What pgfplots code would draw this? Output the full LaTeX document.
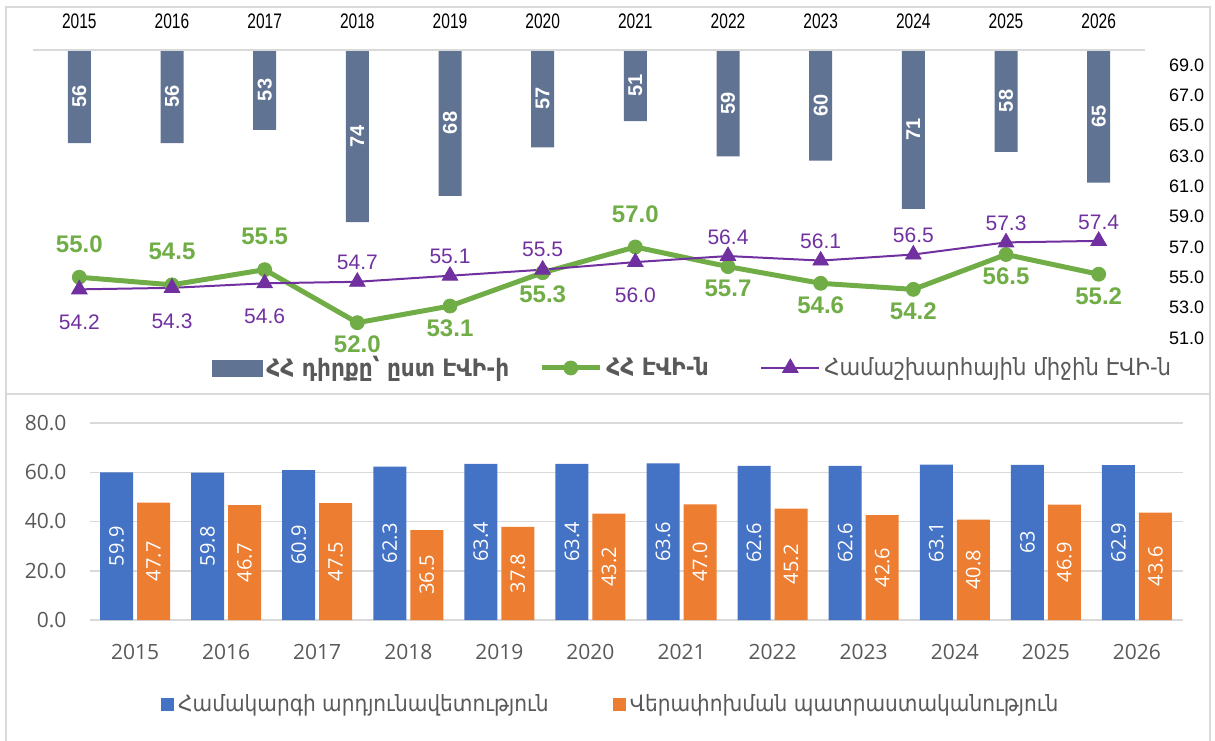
\documentclass[border=0pt]{standalone}
\usepackage{fontspec}
\usepackage{pgfplots}
\usepackage{pgfplotstable}
\pgfplotsset{compat=1.18}
\setmainfont{Liberation Sans}
\newfontfamily\armfont{DejaVu Sans Condensed}
\newfontfamily\narrowfont[FakeStretch=0.74]{Liberation Sans}
\newfontfamily\osfont{Open Sans}
\definecolor{barcol}{HTML}{607392}
\definecolor{gcol}{HTML}{70AD47}
\definecolor{pcol}{HTML}{7030A0}
\definecolor{bcol}{HTML}{4472C4}
\definecolor{ocol}{HTML}{ED7D31}
\definecolor{gridc}{HTML}{D9D9D9}
\definecolor{txt}{HTML}{595959}

\pgfplotstableread{
x rank am   gdy  world pdy
0  56  55.0  16.5  54.2 -16.5
1  56  54.5  16.5  54.3 -16.5
2  53  55.5  16.5  54.6 -16.5
3  74  52.0 -11  54.7  9.5
4  68  53.1 -11  55.1  9.5
5  57  55.3 -11  55.5  10
6  51  57.0  16.5  56.0 -16.5
7  59  55.7 -11  56.4  9.5
8  60  54.6 -11  56.1  9.5
9  71  54.2 -11  56.5  9.5
10 58  56.5 -11  57.3  9.5
11 65  55.2 -11  57.4  9.5
}\topdata

\pgfplotstableread{
x eff  efflab  prep  preplab
0  59.9 59.9  47.7 47.7
1  59.8 59.8  46.7 46.7
2  60.9 60.9  47.5 47.5
3  62.3 62.3  36.5 36.5
4  63.4 63.4  37.8 37.8
5  63.4 63.4  43.2 43.2
6  63.6 63.6  47.0 47.0
7  62.6 62.6  45.2 45.2
8  62.6 62.6  42.6 42.6
9  63.1 63.1  40.8 40.8
10 63   63    46.9 46.9
11 62.9 62.9  43.6 43.6
}\botdata

\begin{document}
\begin{tikzpicture}
\useasboundingbox (0,0) rectangle (607.5pt,370pt);
% panel frames
\draw[gridc, line width=0.75pt] (3pt,173pt) -- (3pt,366.5pt) -- (605pt,366.5pt) -- (605pt,173pt);
\draw[gridc, line width=0.75pt] (3pt,173pt) -- (605pt,173pt);
\draw[gridc, line width=0.75pt] (3pt,173pt) -- (3pt,-1pt);
\draw[gridc, line width=0.75pt] (605pt,173pt) -- (605pt,-1pt);

% ---------- top: rank bars (reversed axis) ----------
\begin{axis}[
  at={(16.5pt,193.5pt)}, anchor=south west,
  width=556pt, height=151.5pt, scale only axis,
  xmin=-0.5, xmax=11.5,
  ymin=34.8, ymax=103.8, y dir=reverse,
  hide axis,
]
\addplot[ybar, bar width=11.5pt, fill=barcol, draw=none]
  table[x=x, y=rank]{\topdata};
\addplot[draw=none, mark=none,
  nodes near coords, point meta=explicit symbolic,
  every node near coord/.append style={font=\bfseries\fontsize{10}{12}\selectfont, text=white,
     anchor=center, rotate=90}]
  table[x=x, y expr={(\thisrow{rank}+34.8)/2}, meta=rank]{\topdata};
\end{axis}
\draw[gridc, line width=1pt] (16.5pt,345pt) -- (572.5pt,345pt);

% ---------- top: lines ----------
\begin{axis}[
  at={(16.5pt,193.5pt)}, anchor=south west,
  width=556pt, height=151.5pt, scale only axis,
  xmin=-0.5, xmax=11.5, ymin=50, ymax=70,
  axis line style={draw=none},
  major tick length=0pt, tick style={draw=none},
  xtick={0,...,11},
  xticklabels={2015,2016,2017,2018,2019,2020,2021,2022,2023,2024,2025,2026},
  xticklabel pos=upper,
  xticklabel style={font=\narrowfont\fontsize{10.5}{12}\selectfont, text=black, yshift=7pt},
  ytick={51,53,...,69}, yticklabel pos=right,
  yticklabel style={/pgf/number format/.cd, fixed, fixed zerofill, precision=1, assume math mode=true, /tikz/.cd,
     font=\fontsize{9}{11}\selectfont, text=black, xshift=8.5pt},
  legend columns=3,
  legend style={at={(0.593,-0.0495)}, anchor=center, draw=none, fill=none,
     font=\armfont\fontsize{12}{14}\selectfont, text=txt,
     /tikz/every even column/.append style={column sep=8.5pt}},
  legend image code/.code={\draw[mark repeat=2,mark phase=2,#1] plot coordinates {(0pt,0pt) (14.5pt,0pt) (29pt,0pt)};},
  clip=false,
]
\addlegendimage{legend image code/.code={\fill[barcol] (0pt,-4pt) rectangle (25pt,4pt);}}
\addlegendentry{\makebox[126pt][l]{\bfseries ՀՀ դիրքը՝ ըստ ԷՎԻ-ի}}
\addplot[gcol, line width=2.5pt, mark=*, mark size=3.5pt, mark options={line width=0.4pt, fill=gcol, draw=gcol},
  nodes near coords, point meta=explicit symbolic,
  visualization depends on={\thisrow{gdy} \as \dy},
  every node near coord/.append style={font=\bfseries\fontsize{12}{14}\selectfont, text=gcol, anchor=center, yshift=\dy*1pt}]
  table[x=x, y=am, meta=am]{\topdata};
\addlegendentry{\makebox[66.5pt][l]{\bfseries ՀՀ ԷՎԻ-ն}}
\addplot[pcol, line width=1pt, mark=triangle*, mark size=4.5pt, mark options={line width=0.4pt, fill=pcol, draw=pcol},
  nodes near coords, point meta=explicit symbolic,
  visualization depends on={\thisrow{pdy} \as \pdy},
  every node near coord/.append style={font=\fontsize{10.5}{12}\selectfont, text=pcol, anchor=center, yshift=\pdy*1pt}]
  table[x=x, y=world, meta=world]{\topdata};
\addlegendentry{\makebox[172.5pt][l]{\fontsize{11.8}{14}\selectfont Համաշխարհային միջին ԷՎԻ-ն}}
\end{axis}

% ---------- bottom: clustered bars ----------
\begin{axis}[
  at={(44.75pt,60pt)}, anchor=south west,
  width=546.5pt, height=98.5pt, scale only axis,
  xmin=-0.5, xmax=11.5, ymin=0, ymax=80,
  ybar=2pt, bar width=16.5pt,
  axis line style={draw=none},
  major tick length=0pt, tick style={draw=none},
  ymajorgrids, grid style={gridc, line width=0.75pt},
  ytick={0,20,...,80},
  xtick={0,...,11},
  xticklabels={2015,2016,2017,2018,2019,2020,2021,2022,2023,2024,2025,2026},
  xticklabel style={font=\osfont\fontsize{10.5}{12}\selectfont, text=txt, yshift=-8.5pt},
  yticklabel style={/pgf/number format/.cd, fixed, fixed zerofill, precision=1, assume math mode=true, /tikz/.cd,
     font=\osfont\fontsize{10.5}{12}\selectfont, text=txt, xshift=-8pt},
  legend columns=2,
  legend style={at={(0.478,-0.431)}, anchor=center, draw=none, fill=none,
     font=\armfont\fontsize{11.2}{13}\selectfont, text=txt,
     /tikz/every even column/.append style={column sep=30pt}},
  legend image code/.code={\fill[#1] (0pt,-3.25pt) rectangle (6.5pt,3.25pt);},
  nodes near coords, point meta=explicit symbolic,
  visualization depends on={y \as \rawy},
  every node near coord/.append style={font=\osfont\fontsize{10}{12}\selectfont, text=white,
     anchor=center, shift={(axis direction cs:0,-\rawy/2)}, rotate=90},
]
\addplot[fill=bcol, draw=none] table[x=x, y=eff, meta=efflab]{\botdata};
\addlegendentry{Համակարգի արդյունավետություն}
\addplot[fill=ocol, draw=none] table[x=x, y=prep, meta=preplab]{\botdata};
\addlegendentry{Վերափոխման պատրաստականություն}
\end{axis}
\end{tikzpicture}
\end{document}
